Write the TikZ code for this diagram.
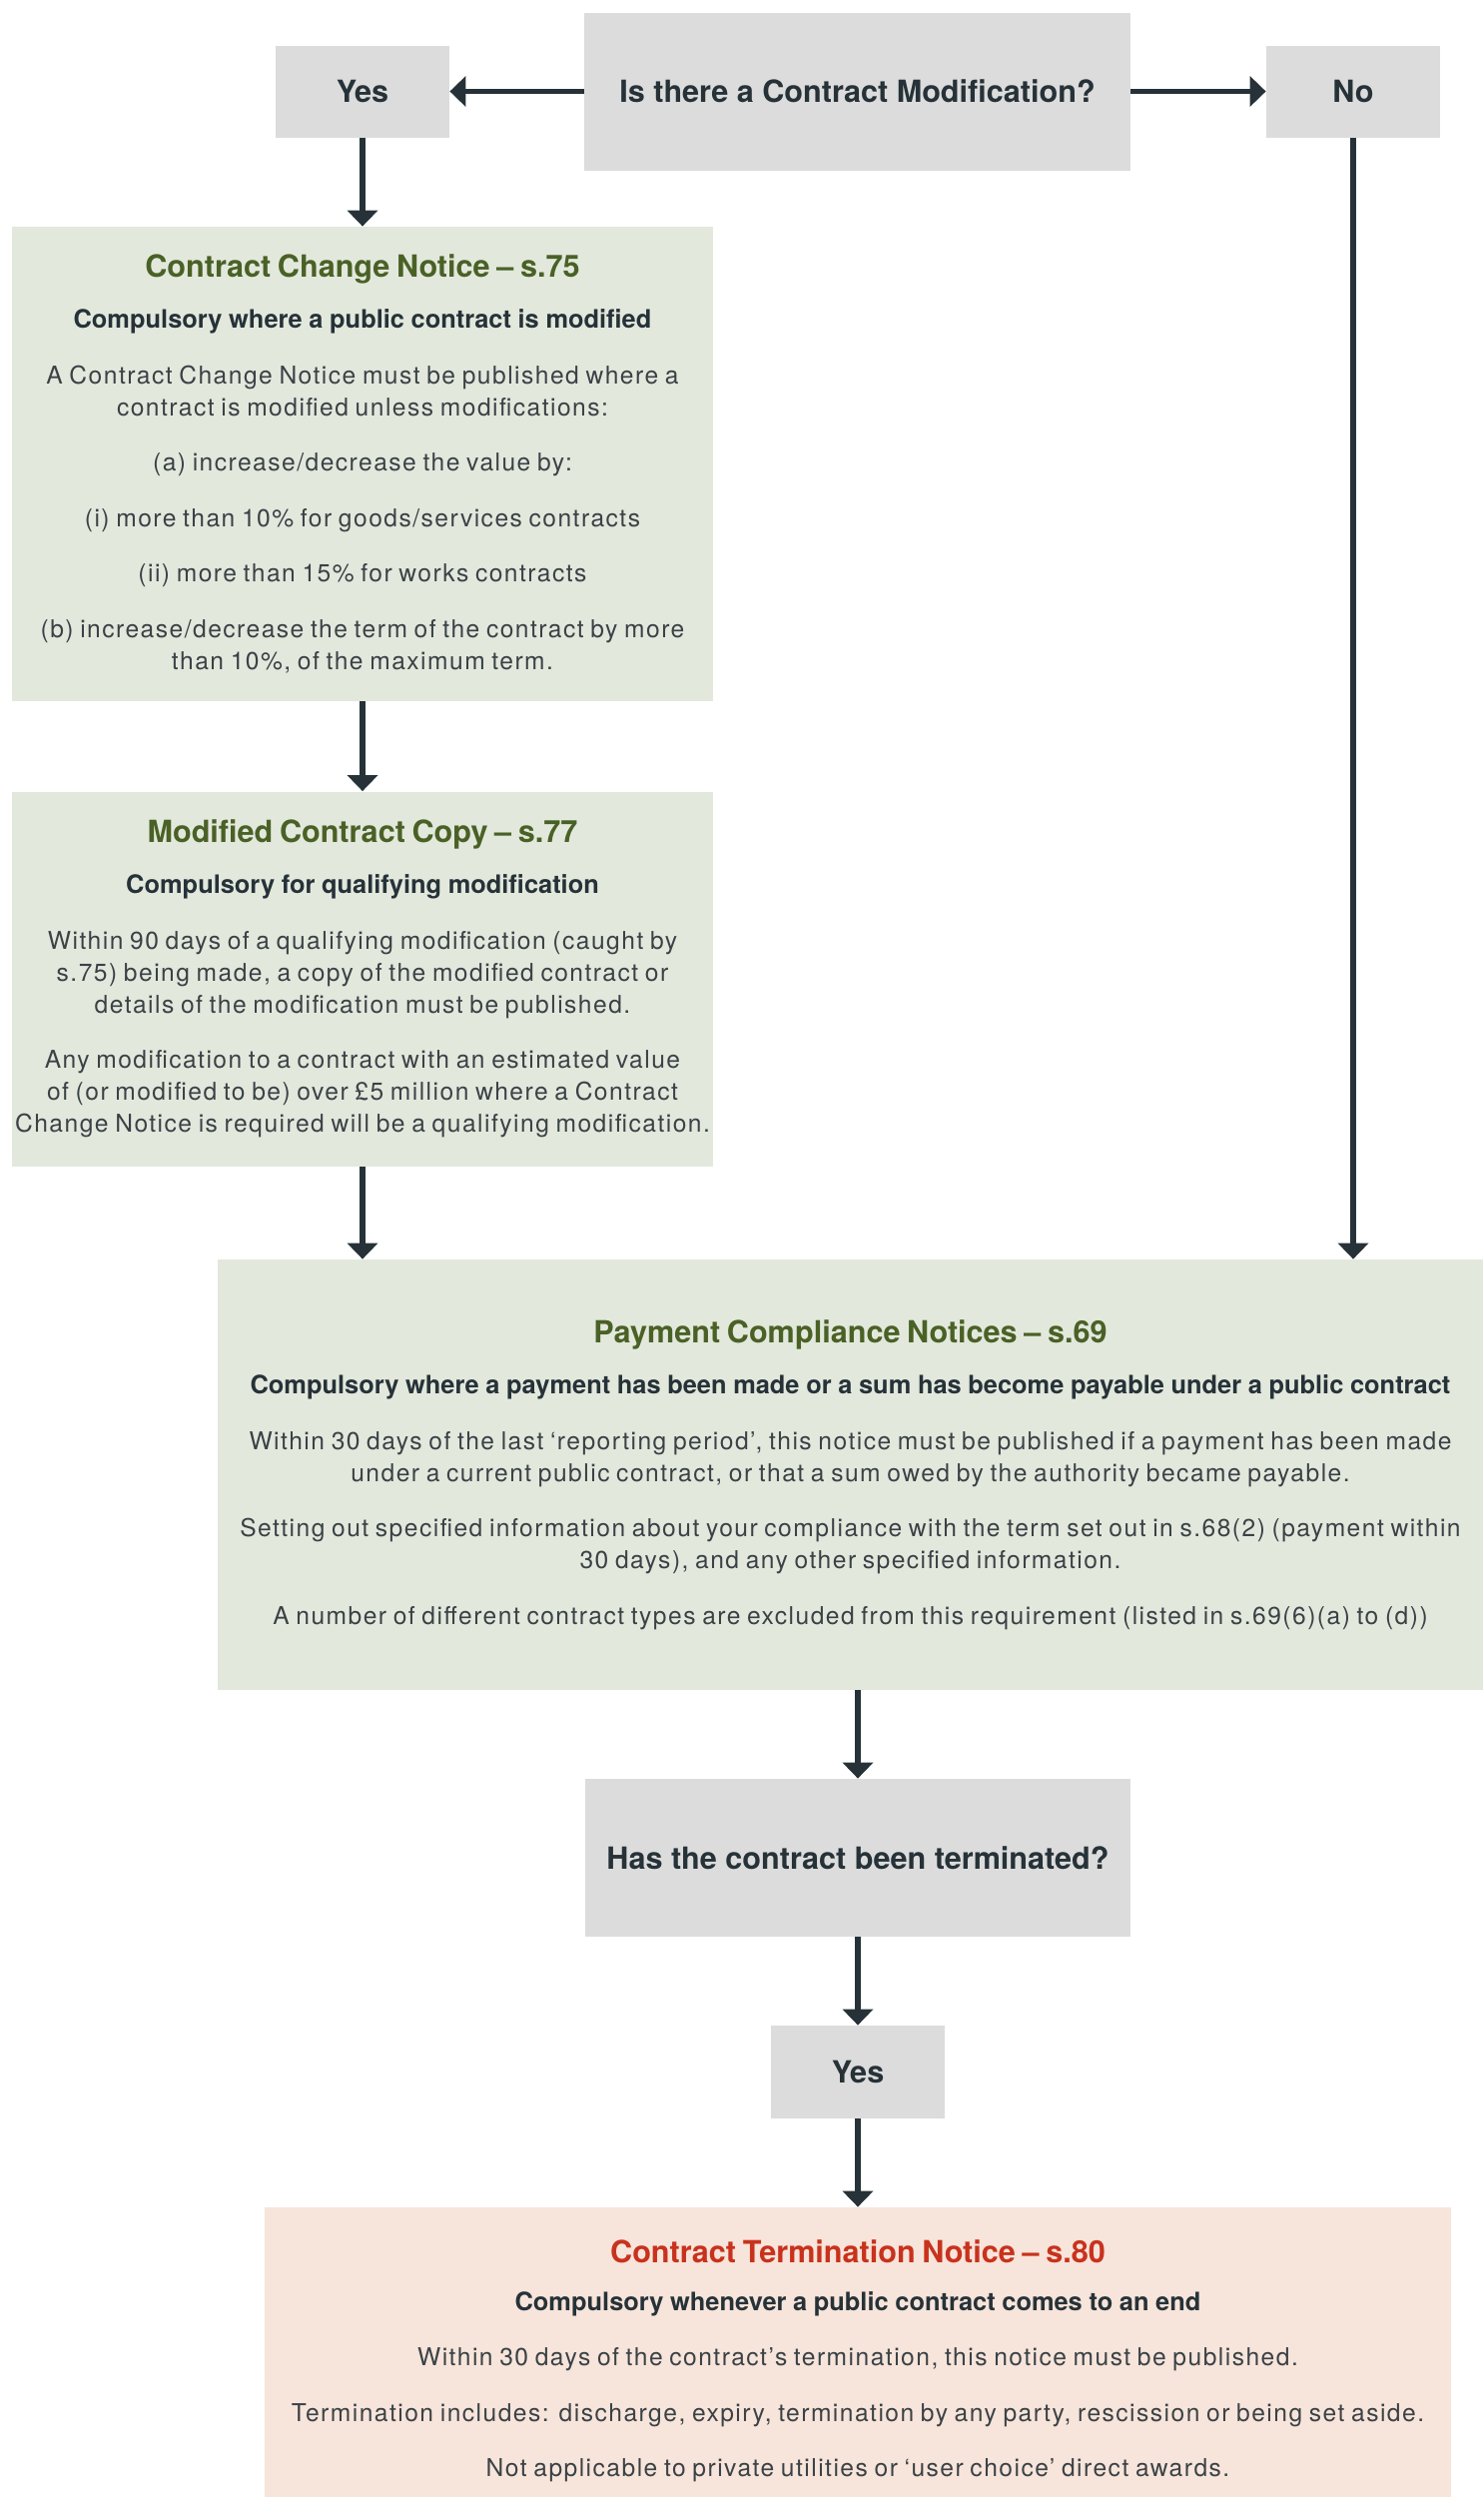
\documentclass[tikz,border=0pt]{standalone}
\usepackage{fontspec}
\setmainfont{TeX Gyre Heros}
\newfontfamily\lightfam[LetterSpace=6]{TeX Gyre Heros}
\usetikzlibrary{arrows.meta}

\definecolor{ink}{HTML}{263238}
\definecolor{bodyink}{HTML}{3A4246}
\definecolor{decisiongrey}{HTML}{DCDCDC}
\definecolor{noticegreen}{HTML}{E3E8DD}
\definecolor{termpink}{HTML}{F7E4DA}
\definecolor{headgreen}{HTML}{4A6126}
\definecolor{headred}{HTML}{C8321D}

\newcommand{\questfont}{\fontsize{15.3}{18}\selectfont\bfseries}
\newcommand{\headfont}{\fontsize{15.3}{18}\selectfont\bfseries}
\newcommand{\subfont}{\fontsize{12.7}{16}\selectfont\bfseries\color{ink}}
\newcommand{\bodyfont}{\lightfam\fontsize{12.3}{16}\selectfont\color{bodyink}}
\newcommand{\blockgap}{\par\vspace{11.75pt}}

\tikzset{
  decision/.style={fill=decisiongrey, text=ink, font=\questfont, inner sep=0pt},
  notice/.style={fill=noticegreen, inner sep=0pt, align=center},
  flow/.style={draw=ink, line width=2.75pt, -{Triangle[width=15pt,length=8pt]}},
}

\begin{document}
\begin{tikzpicture}[x=0.5pt,y=-0.5pt]
\useasboundingbox (0,0) rectangle (1485,2500);

% first question and its answers
\node[decision, minimum width=273.5pt, minimum height=79pt] (q1) at (858.5,91.5) {Is there a Contract Modification?};
\node[decision, minimum width=87pt, minimum height=46pt] (yes1) at (363,91.5) {Yes};
\node[decision, minimum width=87pt, minimum height=46pt] (no1) at (1355,91.5) {No};

\node[notice, text width=349pt, minimum width=351pt, minimum height=237.5pt] (ccn) at (363,464.5) {%
{\headfont\color{headgreen} Contract Change Notice – s.75}\blockgap
{\subfont Compulsory where a public contract is modified}\blockgap
{\bodyfont A Contract Change Notice must be published where a\\contract is modified unless modifications:\blockgap
(a) increase/decrease the value by:\blockgap
(i) more than 10\% for goods/services contracts\blockgap
(ii) more than 15\% for works contracts\blockgap
(b) increase/decrease the term of the contract by more\\than 10\%, of the maximum term.\par}};

\node[notice, text width=349pt, minimum width=351pt, minimum height=187.5pt] (mcc) at (363,980) {%
{\headfont\color{headgreen} Modified Contract Copy – s.77}\blockgap
{\subfont Compulsory for qualifying modification}\blockgap
{\bodyfont Within 90 days of a qualifying modification (caught by\\s.75) being made, a copy of the modified contract or\\details of the modification must be published.\blockgap
Any modification to a contract with an estimated value\\of (or modified to be) over £5 million where a Contract\\Change Notice is required will be a qualifying modification.\par}};

\node[notice, text width=630pt, minimum width=633.5pt, minimum height=215.5pt] (pcn) at (851.5,1476.5) {%
{\headfont\color{headgreen} Payment Compliance Notices – s.69}\blockgap
{\subfont Compulsory where a payment has been made or a sum has become payable under a public contract}\blockgap
{\bodyfont Within 30 days of the last ‘reporting period’, this notice must be published if a payment has been made\\under a current public contract, or that a sum owed by the authority became payable.\blockgap
Setting out specified information about your compliance with the term set out in s.68(2) (payment within\\30 days), and any other specified information.\blockgap
A number of different contract types are excluded from this requirement (listed in s.69(6)(a) to (d))\par}};

% second question
\node[decision, minimum width=273pt, minimum height=79pt] (q2) at (859,1860) {Has the contract been terminated?};
\node[decision, minimum width=87pt, minimum height=46.5pt] (yes2) at (859,2074.5) {Yes};

\node[notice, fill=termpink, text width=590pt, minimum width=594pt, minimum height=154pt] (ctn) at (859,2364) {%
{\headfont\color{headred} Contract Termination Notice – s.80}\blockgap
{\subfont Compulsory whenever a public contract comes to an end}\blockgap
{\bodyfont Within 30 days of the contract’s termination, this notice must be published.\blockgap
Termination includes: discharge, expiry, termination by any party, rescission or being set aside.\blockgap
Not applicable to private utilities or ‘user choice’ direct awards.\par}};

\path[flow] (q1.west) -- (yes1.east);
\path[flow] (q1.east) -- (no1.west);
\path[flow] (yes1.south) -- (ccn.north);
\path[flow] (ccn.south) -- (mcc.north);
\path[flow] (mcc.south) -- (mcc.south |- pcn.north);
\path[flow] (no1.south) -- (no1.south |- pcn.north);
\path[flow] (q2.north |- pcn.south) -- (q2.north);
\path[flow] (q2.south) -- (yes2.north);
\path[flow] (yes2.south) -- (ctn.north);
\end{tikzpicture}
\end{document}
